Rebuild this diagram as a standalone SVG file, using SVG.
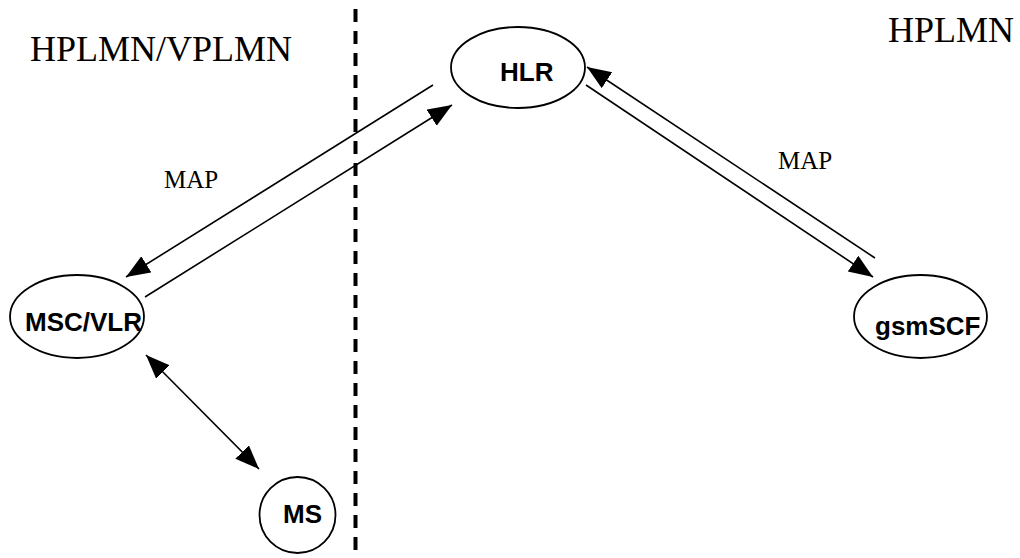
<svg xmlns="http://www.w3.org/2000/svg" width="1020" height="558" viewBox="0 0 1020 558">
<style>
.node{fill:#fff;stroke:#000;stroke-width:1.8}
.lbl{font-family:"Liberation Sans",Arial,sans-serif;font-weight:bold;font-size:26px;fill:#000}
.zone{font-family:"Liberation Serif","Times New Roman",serif;font-size:36px;fill:#000}
.map{font-family:"Liberation Serif","Times New Roman",serif;font-size:25px;fill:#000}
.conn{stroke:#000;stroke-width:1.6;fill:none}
</style>
<defs>
<marker id="ah" markerUnits="userSpaceOnUse" markerWidth="25" markerHeight="20" refX="24" refY="9.5" orient="auto-start-reverse">
<path d="M0,0 L24,9.5 L0,19 z" fill="#000"/>
</marker>
</defs>
<line x1="355.5" y1="9" x2="355.5" y2="558" stroke="#000" stroke-width="4" stroke-dasharray="13 9"/>
<text class="zone" x="30" y="61">HPLMN/VPLMN</text>
<text class="zone" x="888" y="42">HPLMN</text>
<g id="connectors">
<line class="conn" x1="433" y1="85" x2="126" y2="277" marker-end="url(#ah)"/>
<line class="conn" x1="145" y1="297" x2="452" y2="105" marker-end="url(#ah)"/>
<line class="conn" x1="875" y1="258" x2="587" y2="67" marker-end="url(#ah)"/>
<line class="conn" x1="586" y1="85" x2="873" y2="277" marker-end="url(#ah)"/>
<line class="conn" x1="146" y1="355" x2="259" y2="469" marker-start="url(#ah)" marker-end="url(#ah)"/>
<text class="map" x="164" y="188">MAP</text>
<text class="map" x="778" y="169">MAP</text>
</g>
<g id="HLR">
<ellipse class="node" cx="518" cy="67.5" rx="67" ry="40.5"/>
<text class="lbl" x="500" y="81">HLR</text>
</g>
<g id="MSCVLR">
<ellipse class="node" cx="77" cy="316.5" rx="67" ry="41.5"/>
<text class="lbl" x="25" y="331">MSC/VLR</text>
</g>
<g id="gsmSCF">
<ellipse class="node" cx="920.5" cy="316.5" rx="66.5" ry="41.5"/>
<text class="lbl" x="875" y="335">gsmSCF</text>
</g>
<g id="MS">
<circle class="node" cx="297.5" cy="515" r="38"/>
<text class="lbl" x="283" y="523">MS</text>
</g>
</svg>
